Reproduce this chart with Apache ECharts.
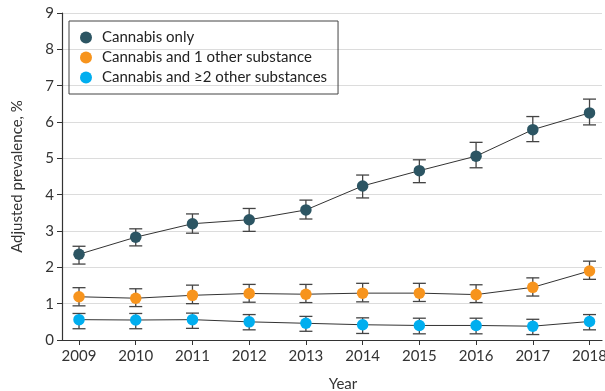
<!DOCTYPE html>
<html>
<head>
<meta charset="utf-8">
<script src="https://cdn.jsdelivr.net/npm/echarts@6/dist/echarts.min.js"></script>
<style>html,body{margin:0;padding:0;background:#fff;}#c{width:605px;height:391px;}</style>
</head>
<body>
<div id="c"></div>
<script>
const years = [2009, 2010, 2011, 2012, 2013, 2014, 2015, 2016, 2017, 2018];
const seriesNames = ['Cannabis only', 'Cannabis and 1 other substance', 'Cannabis and \u22652 other substances'];
const onlyMean = [2.36, 2.83, 3.20, 3.31, 3.58, 4.24, 4.66, 5.06, 5.79, 6.25];
const onlyLow  = [2.09, 2.59, 2.94, 2.99, 3.33, 3.91, 4.33, 4.74, 5.46, 5.92];
const onlyHigh = [2.58, 3.06, 3.47, 3.62, 3.85, 4.54, 4.96, 5.44, 6.15, 6.63];
const oneMean = [1.19, 1.15, 1.23, 1.28, 1.26, 1.29, 1.29, 1.25, 1.45, 1.90];
const oneLow  = [0.94, 0.92, 1.00, 1.04, 1.03, 1.05, 1.06, 1.03, 1.21, 1.67];
const oneHigh = [1.44, 1.41, 1.51, 1.53, 1.53, 1.56, 1.56, 1.52, 1.71, 2.17];
const twoMean = [0.56, 0.55, 0.56, 0.50, 0.46, 0.42, 0.40, 0.40, 0.38, 0.51];
const twoLow  = [0.31, 0.31, 0.32, 0.28, 0.24, 0.18, 0.17, 0.17, 0.15, 0.28];
const twoHigh = [0.73, 0.73, 0.74, 0.70, 0.65, 0.61, 0.60, 0.60, 0.57, 0.70];
const yTicks = [0, 1, 2, 3, 4, 5, 6, 7, 8, 9];

const colors = ['#2c5563', '#f7941d', '#00aeef'];
const FONT = 'Lato';

const groups = [
  {mean: onlyMean, low: onlyLow, high: onlyHigh},
  {mean: oneMean, low: oneLow, high: oneHigh},
  {mean: twoMean, low: twoLow, high: twoHigh}
];

const series = [];
groups.forEach((g, i) => {
  series.push({
    type: 'custom',
    name: seriesNames[i] + ' CI',
    z: 1,
    silent: true,
    data: years.map((y, k) => [y, g.low[k], g.high[k]]),
    renderItem: function (params, api) {
      const x = api.value(0);
      const lo = api.coord([x, api.value(1)]);
      const hi = api.coord([x, api.value(2)]);
      const hw = 6.5;
      const st = {stroke: '#444', lineWidth: 1.3, fill: null};
      return {
        type: 'group',
        children: [
          {type: 'line', shape: {x1: lo[0], y1: lo[1], x2: hi[0], y2: hi[1]}, style: st},
          {type: 'line', shape: {x1: lo[0] - hw, y1: lo[1], x2: lo[0] + hw, y2: lo[1]}, style: st},
          {type: 'line', shape: {x1: hi[0] - hw, y1: hi[1], x2: hi[0] + hw, y2: hi[1]}, style: st}
        ]
      };
    }
  });
});
groups.forEach((g, i) => {
  series.push({
    type: 'line',
    name: seriesNames[i],
    z: 5,
    data: years.map((y, k) => [y, g.mean[k]]),
    symbol: 'circle',
    symbolSize: 11.5,
    showSymbol: true,
    lineStyle: {color: '#333', width: 1},
    itemStyle: {color: colors[i]}
  });
});

const chart = echarts.init(document.getElementById('c'), null, {renderer: 'canvas'});
chart.setOption({
  animation: false,
  backgroundColor: '#fff',
  textStyle: {fontFamily: FONT},
  grid: {left: 62, right: 3, top: 13, bottom: 51, containLabel: false, outerBoundsMode: 'none'},
  legend: {
    show: true,
    data: seriesNames,
    orient: 'vertical',
    left: 69,
    top: 21,
    icon: 'circle',
    itemWidth: 12,
    itemHeight: 12,
    itemGap: 5,
    padding: [9, 11, 9, 11],
    borderColor: '#444',
    borderWidth: 1,
    textStyle: {fontFamily: FONT, fontSize: 15, color: '#222', padding: [0, 0, 0, 5]}
  },
  xAxis: {
    type: 'value',
    min: 2008.7,
    max: 2018.22,
    name: 'Year',
    nameLocation: 'middle',
    nameGap: 37,
    nameTextStyle: {fontFamily: FONT, fontSize: 15, color: '#333', padding: [0, 0, 0, 22]},
    axisLine: {show: true, lineStyle: {color: '#333', width: 1.2}},
    axisTick: {show: true, length: 5, customValues: years, lineStyle: {color: '#333'}},
    axisLabel: {customValues: years, formatter: v => String(v), fontFamily: FONT, fontSize: 15, color: '#333', margin: 9},
    splitLine: {show: false}
  },
  yAxis: {
    type: 'value',
    min: 0,
    max: 9,
    interval: 1,
    name: 'Adjusted prevalence, %',
    nameLocation: 'middle',
    nameGap: 37,
    nameTextStyle: {fontFamily: FONT, fontSize: 15, color: '#333'},
    axisLine: {show: true, lineStyle: {color: '#333', width: 1.2}},
    axisTick: {show: true, length: 5, lineStyle: {color: '#333'}},
    axisLabel: {fontFamily: FONT, fontSize: 15, color: '#333', margin: 8, formatter: v => yTicks.includes(v) ? String(v) : ''},
    splitLine: {show: true, lineStyle: {color: '#dcdcdc', width: 1.2}}
  },
  series: series
});
</script>
</body>
</html>
